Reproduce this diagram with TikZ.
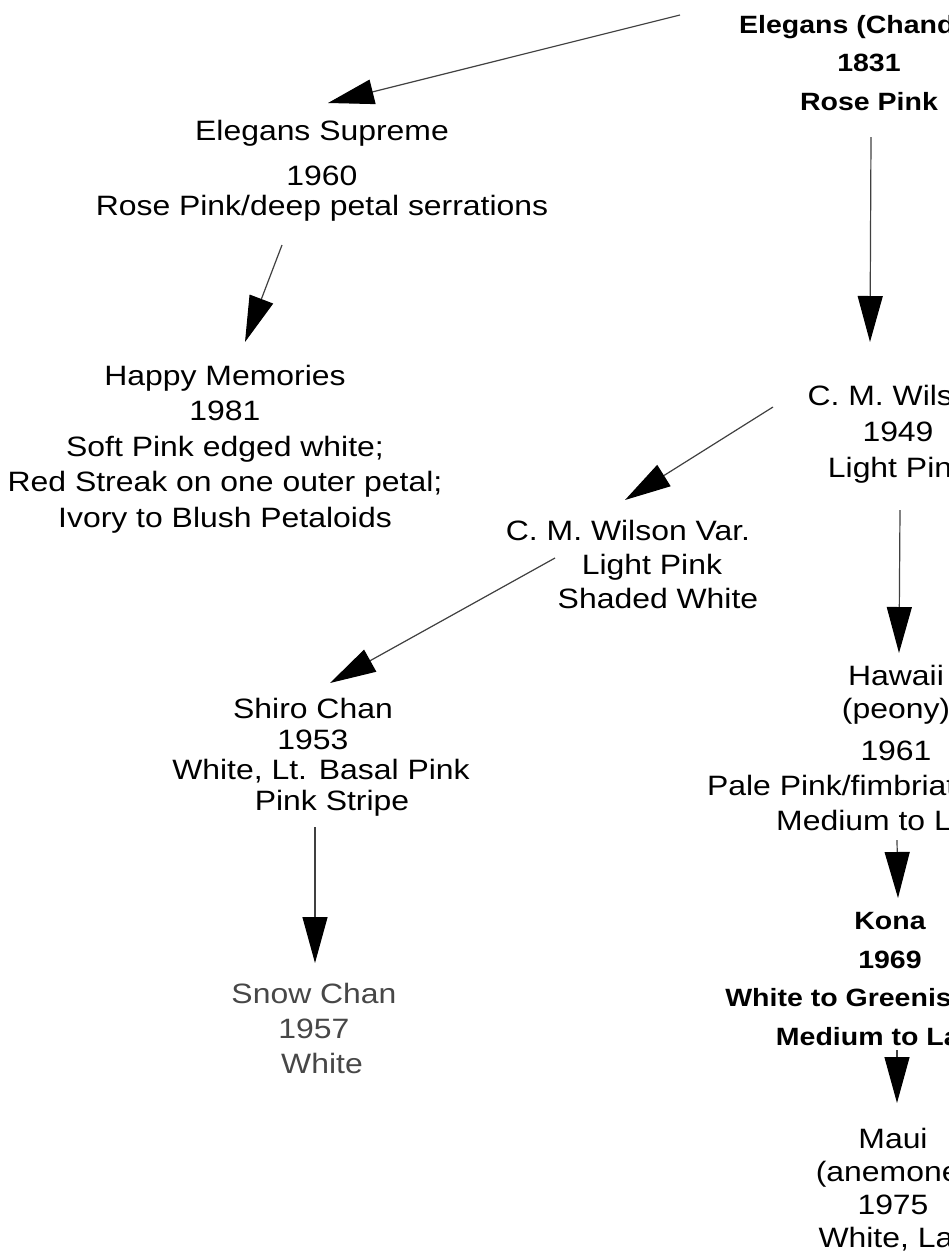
\documentclass[tikz,border=0pt]{standalone}
\usepackage{fontspec}
\setmainfont[FakeStretch=1.14]{Liberation Sans}
\usetikzlibrary{arrows.meta, positioning}

\begin{document}
\begin{tikzpicture}[
  x=1pt, y=-1pt,
  every node/.style={align=center, inner sep=0pt, anchor=base},
  cultivar/.style={font=\fontsize{28}{#1}\selectfont},
  cultivar/.default=35,
  boldname/.style={font=\fontsize{25}{#1}\selectfont\bfseries},
  boldname/.default=38.5,
  arrow/.style={-{Triangle[length=46pt, width=25pt, color=black]}, line width=1.2pt, draw=black!75}
]
\useasboundingbox (0,0) rectangle (949,1251);
\clip (0,0) rectangle (949,1251);

% Parent
\node[boldname] (chandler) at (869,110) {Elegans (Chandler)\\1831\\Rose Pink};

% Left branch
\node[cultivar=30] (supreme) at (322,215) {Elegans Supreme\\[15pt]1960\\Rose Pink/deep petal serrations};
\node[cultivar=35.5] (memories) at (225,527) {Happy Memories\\1981\\Soft Pink edged white;\\Red Streak on one outer petal;\\Ivory to Blush Petaloids};

% Wilson and its sport
\node[cultivar=36] (wilson) at (898,477) {C. M. Wilson\\1949\\Light Pink};
\node[cultivar=34] (wilsonvar) at (628,608) {C. M. Wilson Var.\\\hspace*{48pt}Light Pink\\\hspace*{60pt}Shaded White};
\node[cultivar=30.5] (shiro) at (313,810) {Shiro Chan\\1953\\\hspace*{16pt}White, Lt. Basal Pink\\\hspace*{38pt}Pink Stripe};
\node[cultivar, text=black!72] (snow) at (314,1073) {Snow Chan\\1957\\\hspace*{16pt}White};

% Right branch
\node[cultivar] (hawaii) at (896,830) {Hawaii\\[-2pt](peony)\\[7pt]1961\\Pale Pink/fimbriated petals\\Medium to Large};
\node[boldname] (kona) at (890,1045) {Kona\\1969\\White to Greenish White\\Medium to Large};
\node[cultivar=33] (maui) at (893,1247) {Maui\\(anemone)\\1975\\\hspace*{32pt}White, Large};

% Arrows
\draw[arrow] ([shift={(-189,-95)}]chandler.base) -- ([shift={(6,-112)}]supreme.base);
\draw[arrow] ([shift={(-40,30)}]supreme.base) -- ([shift={(20,-185)}]memories.base);
\draw[arrow] ([shift={(2,27)}]chandler.base) -- ([shift={(-28,-135)}]wilson.base);
\draw[arrow] ([shift={(-125,-70)}]wilson.base) -- ([shift={(-3,-108)}]wilsonvar.base);
\draw[arrow] ([shift={(-73,-50)}]wilsonvar.base) -- ([shift={(17,-127)}]shiro.base);
\draw[arrow] ([shift={(2,17)}]shiro.base) -- ([shift={(1,-110)}]snow.base);
\draw[arrow] ([shift={(2,33)}]wilson.base) -- ([shift={(3,-177)}]hawaii.base);
\draw[arrow] ([shift={(1,10)}]hawaii.base) -- ([shift={(8,-147)}]kona.base);
\draw[arrow] ([shift={(7,5)}]kona.base) -- ([shift={(4,-144)}]maui.base);

\end{tikzpicture}
\end{document}
